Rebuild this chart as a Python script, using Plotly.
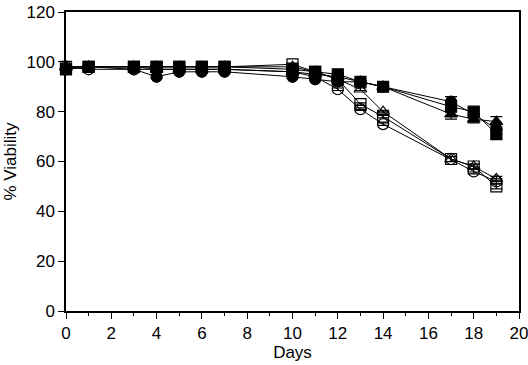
import plotly.graph_objects as go

days = [0, 1, 3, 4, 5, 6, 7, 10, 11, 12, 13, 14, 17, 18, 19]

filled_circle = [97, 98, 97, 94, 96, 96, 96, 94, 93, 92, 92, 90, 84, 79, 73]
filled_square = [97, 98, 98, 98, 98, 98, 98, 97, 96, 95, 92, 90, 82, 80, 71]
filled_triangle = [98, 98, 98, 97, 97, 97, 97, 96, 95, 94, 92, 90, 79, 77, 76]
open_circle = [98, 97, 97, 97, 97, 97, 97, 96, 94, 89, 81, 75, 61, 56, 52]
open_square = [98, 98, 98, 98, 98, 98, 98, 99, 96, 93, 83, 78, 61, 58, 50]
open_triangle = [98, 98, 98, 98, 98, 98, 98, 98, 96, 93, 89, 80, 61, 58, 53]

err_filled = [0.5, 0.5, 0.5, 0.5, 0.5, 0.5, 0.5, 0.5, 0.5, 0.5, 0.5, 0.5, 2, 1.5, 2]
err_open = [0.5, 0.5, 0.5, 0.5, 0.5, 0.5, 0.5, 0.5, 0.5, 0.5, 0.5, 0.5, 1, 1, 1]

series = [
    ("Open circle", open_circle, "circle-open", 11, err_open),
    ("Open square", open_square, "square-open", 11, err_open),
    ("Open triangle", open_triangle, "triangle-up-open", 11, err_open),
    ("Filled circle", filled_circle, "circle", 11, err_filled),
    ("Filled square", filled_square, "square", 11, err_filled),
    ("Filled triangle", filled_triangle, "triangle-up", 11, err_filled),
]

fig = go.Figure()
for name, vals, sym, size, err in series:
    fig.add_trace(go.Scatter(
        x=days, y=vals, name=name, mode="lines+markers",
        line=dict(color="black", width=1),
        marker=dict(symbol=sym, size=size, color="black",
                    line=dict(color="black", width=1.2)),
        error_y=dict(type="data", array=err, color="black", thickness=1.2, width=6),
        cliponaxis=False,
    ))

font = dict(family="Liberation Sans, Arial, sans-serif", size=17, color="black")
fig.update_layout(
    width=528, height=365,
    margin=dict(l=66, r=9, t=12, b=54),
    paper_bgcolor="white", plot_bgcolor="white",
    showlegend=False,
    font=font,
)
fig.update_xaxes(
    range=[0, 20], tickvals=list(range(0, 21, 2)), ticks="outside", ticklen=6,
    tickwidth=1.2, tickcolor="black", ticklabeloverflow="allow",
    minor=dict(tickvals=list(range(1, 20, 2)), ticks="outside", ticklen=3, tickcolor="black", tickwidth=1),
    showline=True, linecolor="black", linewidth=1.5, mirror=True,
    showgrid=False, zeroline=False, automargin=False,
    title=dict(text="Days", font=font, standoff=4),
    tickfont=font,
)
fig.update_yaxes(
    range=[0, 120], tickvals=list(range(0, 121, 20)), ticks="outside", ticklen=6,
    tickwidth=1.2, tickcolor="black", ticklabeloverflow="allow",
    showline=True, linecolor="black", linewidth=1.5, mirror=True,
    showgrid=False, zeroline=False, automargin=False,
    title=dict(text="% Viability", font=font, standoff=6),
    tickfont=font,
)
fig.write_html("out.html", config={"displayModeBar": False},
               post_script="document.body.style.margin='0';document.body.style.overflow='hidden';")
